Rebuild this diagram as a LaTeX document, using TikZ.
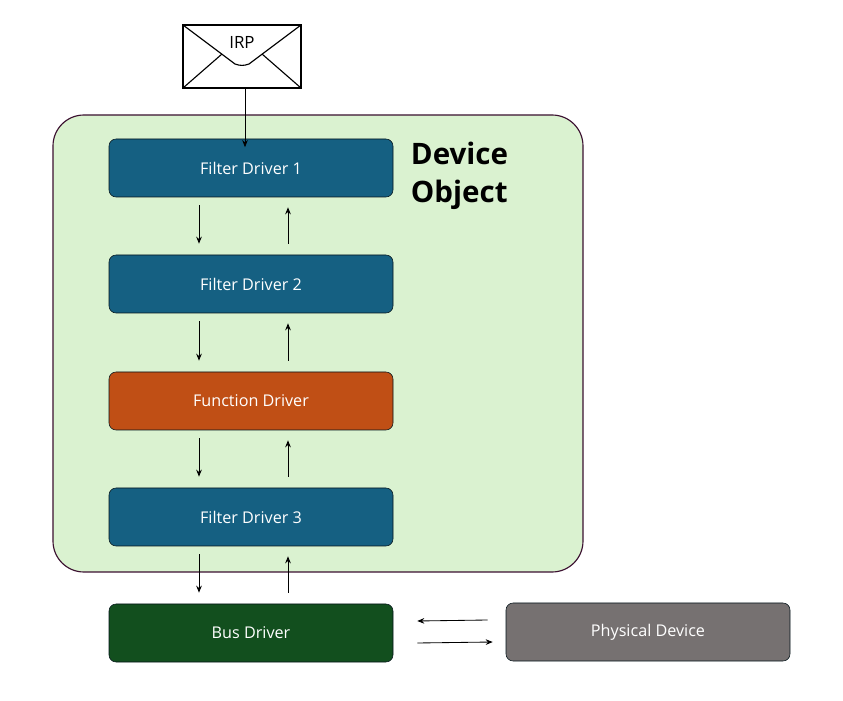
\documentclass[tikz,border=0pt]{standalone}
\usepackage{fontspec}
\setmainfont{Open Sans}
\usetikzlibrary{positioning, arrows.meta}
\definecolor{fdblue}{HTML}{156082}
\definecolor{fnorange}{HTML}{C04F15}
\definecolor{busgreen}{HTML}{124F1E}
\definecolor{physgray}{HTML}{767171}
\definecolor{objgreen}{HTML}{DAF2D0}
\definecolor{objedge}{HTML}{3B1030}
\begin{document}
\begin{tikzpicture}[
    x=0.025cm, y=-0.025cm,
    driver/.style={
        draw=black!80!fdblue,
        rounded corners=5pt,
        minimum width=284*0.025cm,
        minimum height=58*0.025cm,
        text=white,
        font=\fontsize{11.5}{13}\selectfont
    },
    arr/.style={-{Stealth[length=5pt,width=4pt]}, semithick}
]
\useasboundingbox (0,0) rectangle (843,701);

% Device object frame
\draw[objedge, fill=objgreen, rounded corners=22pt, thick] (53,115) rectangle (583,572);
\node[anchor=north west, align=left, font=\fontsize{21}{27}\selectfont\bfseries] (devobj) at (406,137) {Device\\Object};

% Driver stack
\node[driver, fill=fdblue] (fd1) at (251,168) {Filter Driver 1};
\node[driver, fill=fdblue] (fd2) at (251,284) {Filter Driver 2};
\node[driver, fill=fnorange] (fn) at (251,401) {Function Driver};
\node[driver, fill=fdblue] (fd3) at (251,517) {Filter Driver 3};
\node[driver, fill=busgreen] (bus) at (251,633) {Bus Driver};
\node[driver, fill=physgray, draw=black!80!fdblue] (phys) at (648,632) {Physical Device};

% IRP envelope
\draw[thick, fill=white] (183,25) rectangle (301,88);
\draw[thick] (183,25) -- (235,64) to[out=-20,in=200] (249,64) -- (301,25);
\draw[thick] (183,88) -- (222,54);
\draw[thick] (301,88) -- (262,54);
\node[font=\fontsize{12}{14}\selectfont] (irp) at (242,42) {IRP};
\coordinate (env) at (245,88);

\draw[arr] (env) -- ([yshift=-6]fd1.north -| env);

% Up and down arrows
\foreach \a/\b in {fd1/fd2, fd2/fn, fn/fd3, fd3/bus} {
    \draw[arr] ([shift={(-52,8)}]\a.south) -- ([shift={(-52,-11)}]\b.north);
    \draw[arr] ([shift={(37,-11)}]\b.north) -- ([shift={(37,10)}]\a.south);
}

% Bus to physical device
\draw[arr] ([shift={(-18,-12)}]phys.west) -- ([shift={(24,-12)}]bus.east);
\draw[arr] ([shift={(24,10)}]bus.east) -- ([shift={(-13,10)}]phys.west);

\end{tikzpicture}
\end{document}
